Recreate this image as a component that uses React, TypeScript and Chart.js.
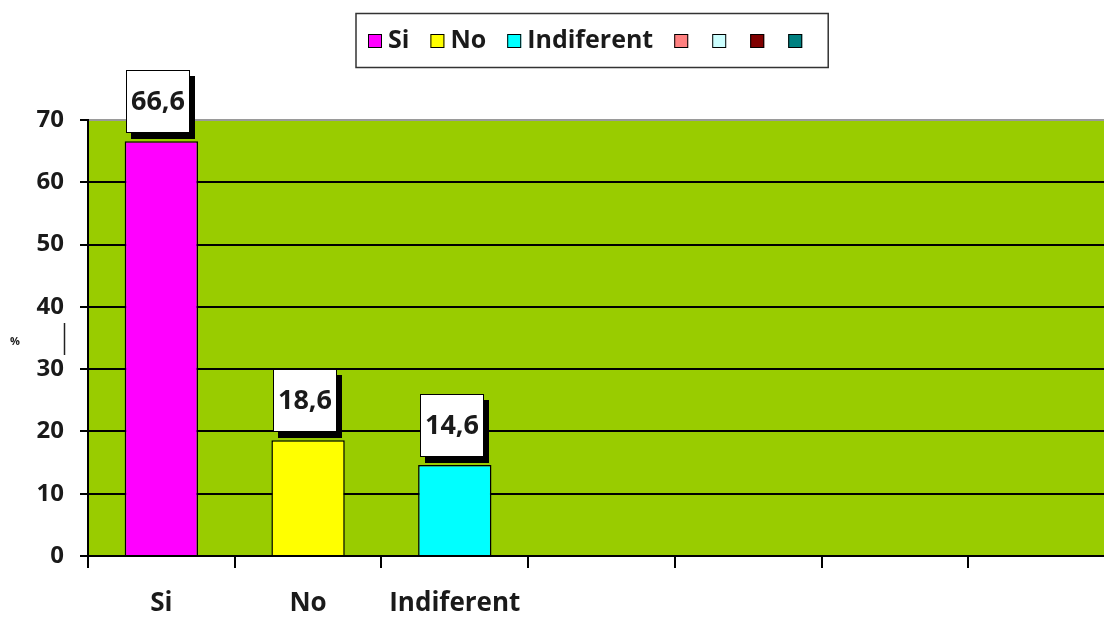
import React, { useEffect, useRef } from 'react';
import { Chart, registerables } from 'chart.js';
Chart.register(...registerables);

const categories = ['Si', 'No', 'Indiferent', '', '', '', ''];
const values: (number | null)[] = [66.6, 18.6, 14.6, null, null, null, null];
const barColors = ['#FF00FF', '#FFFF00', '#00FFFF', '#FF8080', '#CCFFFF', '#800000', '#008080'];
const legendLabels = ['Si', 'No', 'Indiferent', '', '', '', ''];
const yMin = 0;
const yMax = 70;
const yStep = 10;
const axisTitle = '%';

const FONT = "'Open Sans', 'DejaVu Sans', sans-serif";
const TEXT = '#1a1a1a';

const fmt = (v: number) => v.toFixed(1).replace('.', ',');

const bgPlugin = {
  id: 'plotBg',
  beforeDraw(chart: any) {
    const { ctx, chartArea } = chart;
    ctx.save();
    ctx.fillStyle = '#99CC00';
    ctx.fillRect(chartArea.left, chartArea.top, chartArea.right - chartArea.left, chartArea.bottom - chartArea.top);
    ctx.restore();
  },
};

const valueLabelPlugin = {
  id: 'valueLabels',
  afterDatasetsDraw(chart: any) {
    const { ctx } = chart;
    const meta = chart.getDatasetMeta(0);
    ctx.save();
    meta.data.forEach((bar: any, i: number) => {
      const v = values[i];
      if (v == null) return;
      const w = 64;
      const h = 63;
      const cx = bar.x - 3;
      const bottom = bar.y - 8;
      const left = Math.round(cx - w / 2);
      const top = Math.round(bottom - h);
      ctx.fillStyle = '#000';
      ctx.fillRect(left + 5, top + 6, w, h);
      ctx.fillStyle = '#fff';
      ctx.fillRect(left, top, w, h);
      ctx.strokeStyle = '#000';
      ctx.lineWidth = 1;
      ctx.strokeRect(left + 0.5, top + 0.5, w - 1, h - 1);
      ctx.fillStyle = TEXT;
      ctx.font = `bold 27px ${FONT}`;
      ctx.textAlign = 'center';
      ctx.textBaseline = 'middle';
      ctx.fillText(fmt(v), left + w / 2, top + h / 2 + 1);
    });
    ctx.restore();
  },
};

const legendPlugin = {
  id: 'customLegend',
  afterDraw(chart: any) {
    const { ctx } = chart;
    ctx.save();
    ctx.font = `bold 25px ${FONT}`;
    const startX = 368;
    const cy = 41;
    const box = 14;
    let x = startX;
    const items: { x: number; label: string; color: string }[] = [];
    legendLabels.forEach((label, i) => {
      items.push({ x, label, color: barColors[i] });
      if (label) {
        x += box + 6 + ctx.measureText(label).width + 21;
      } else {
        x += box + 24;
      }
    });
    const endX = x - 24 + 26;
    ctx.strokeStyle = '#333';
    ctx.lineWidth = 1.5;
    ctx.strokeRect(356, 13.5, endX - 356, 54);
    items.forEach((it) => {
      ctx.fillStyle = it.color;
      ctx.fillRect(it.x, cy - box / 2, box, box);
      ctx.strokeStyle = '#000';
      ctx.lineWidth = 1;
      ctx.strokeRect(it.x + 0.5, cy - box / 2 + 0.5, box - 1, box - 1);
      if (it.label) {
        ctx.fillStyle = TEXT;
        ctx.textAlign = 'left';
        ctx.textBaseline = 'middle';
        ctx.fillText(it.label, it.x + box + 6, cy);
      }
    });
    ctx.restore();
  },
};

const axisTitlePlugin = {
  id: 'axisTitle',
  afterDraw(chart: any) {
    const { ctx } = chart;
    ctx.save();
    ctx.fillStyle = TEXT;
    ctx.font = `bold 11px ${FONT}`;
    ctx.textAlign = 'center';
    ctx.textBaseline = 'middle';
    ctx.fillText(axisTitle, 15, 342);
    ctx.strokeStyle = '#222';
    ctx.lineWidth = 1.5;
    ctx.beginPath();
    ctx.moveTo(64.5, 323);
    ctx.lineTo(64.5, 355);
    ctx.stroke();
    ctx.restore();
  },
};

export default function App() {
  const ref = useRef<HTMLCanvasElement | null>(null);
  useEffect(() => {
    if (!ref.current) return;
    const chart = new Chart(ref.current, {
      type: 'bar',
      data: {
        labels: categories,
        datasets: [
          {
            data: values,
            backgroundColor: barColors,
            borderColor: '#000',
            borderWidth: 1.5,
            barPercentage: 0.5,
            categoryPercentage: 1,
          },
        ],
      },
      options: {
        responsive: false,
        animation: false,
        devicePixelRatio: 1,
        layout: { padding: { top: 120, right: 5, left: 0, bottom: 0 } },
        plugins: { legend: { display: false }, tooltip: { enabled: false } },
        scales: {
          x: {
            offset: true,
            grid: { drawOnChartArea: false, drawTicks: true, tickLength: 12, color: '#000', lineWidth: 2, offset: true },
            border: { color: '#000', width: 2 },
            ticks: { color: TEXT, font: { family: FONT, size: 26, weight: 'bold' }, padding: 20, maxRotation: 0, autoSkip: false },
            afterFit: (s: any) => { s.height = 64; },
          },
          y: {
            min: yMin,
            max: yMax,
            ticks: { stepSize: yStep, color: TEXT, font: { family: FONT, size: 24, weight: 'bold' }, padding: 16 },
            grid: {
              color: (c: any) => (c.tick && c.tick.value === yMax ? '#9a9a9a' : '#000'),
              tickColor: '#000',
              lineWidth: 2,
              tickLength: 8,
            },
            border: { color: '#000', width: 2 },
            afterFit: (s: any) => { s.width = 88; },
          },
        },
      },
      plugins: [bgPlugin, valueLabelPlugin, legendPlugin, axisTitlePlugin],
    } as any);
    return () => chart.destroy();
  }, []);
  return (
    <div style={{ position: 'fixed', left: 0, top: 0, width: 1104, height: 620, overflow: 'hidden', background: '#fff' }}>
      <canvas ref={ref} width={1120} height={620} style={{ display: 'block' }} />
    </div>
  );
}
